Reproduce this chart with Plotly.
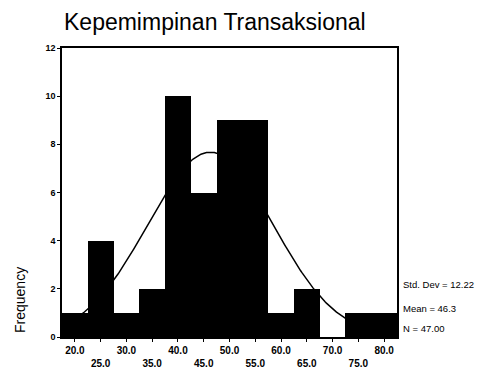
import numpy as np
import plotly.graph_objects as go

# Data
bin_centers = [20, 25, 30, 35, 40, 45, 50, 55, 60, 65, 70, 75, 80]
frequencies = [1, 4, 1, 2, 10, 6, 9, 9, 1, 2, 0, 1, 1]
x_tick_vals = [20, 25, 30, 35, 40, 45, 50, 55, 60, 65, 70, 75, 80]
x_tick_text = ["20.0", "<br>25.0", "30.0", "<br>35.0", "40.0", "<br>45.0", "50.0",
               "<br>55.0", "60.0", "<br>65.0", "70.0", "<br>75.0", "80.0"]
y_tick_vals = [0, 2, 4, 6, 8, 10, 12]
std_dev = 12.22
mean = 46.3
n = 47
bin_width = 5

# Normal curve implied by the stated statistics
xs = np.linspace(17.5, 82.5, 300)
ys = n * bin_width / (std_dev * np.sqrt(2 * np.pi)) * np.exp(-((xs - mean) ** 2) / (2 * std_dev ** 2))

fig = go.Figure()
fig.add_trace(go.Scatter(x=xs, y=ys, mode="lines", line=dict(color="black", width=1.5),
                         hoverinfo="skip", showlegend=False))
fig.add_trace(go.Bar(x=bin_centers, y=frequencies, width=bin_width,
                     marker=dict(color="black", line=dict(width=0)), showlegend=False))

font = "Liberation Sans, Arial, sans-serif"
fig.update_layout(
    width=498, height=381,
    margin=dict(l=54, r=109, t=40, b=52),
    paper_bgcolor="white", plot_bgcolor="white",
    bargap=0,
    font=dict(family=font, color="black"),
    xaxis=dict(range=[17.5, 82.5], tickvals=x_tick_vals, ticktext=x_tick_text,
               ticks="outside", ticklen=3, tickcolor="black", showgrid=False, zeroline=False,
               showline=True, linecolor="black", linewidth=1.5, mirror=True,
               tickfont=dict(size=10, family=font, weight="bold")),
    yaxis=dict(range=[0, 12], tickvals=y_tick_vals, ticks="outside", ticklen=3,
               tickcolor="black", showgrid=False, zeroline=False,
               showline=True, linecolor="black", linewidth=1.5, mirror=True,
               tickfont=dict(size=9, family=font, weight="bold")),
    annotations=[
        dict(text="Kepemimpinan Transaksional", xref="paper", yref="paper",
             x=0.0, y=1.0, yshift=26, xanchor="left", yanchor="middle",
             showarrow=False, font=dict(size=23, family=font)),
        dict(text="Frequency", xref="paper", yref="paper", x=0, xshift=-42,
             y=0.128, textangle=-90, xanchor="center", yanchor="middle",
             showarrow=False, font=dict(size=14, family=font)),
        dict(text="Std. Dev = %.2f" % std_dev, xref="paper", yref="y", x=1.0, xshift=4,
             y=2.16, xanchor="left", yanchor="middle", showarrow=False,
             font=dict(size=9.5, family=font)),
        dict(text="Mean = %.1f" % mean, xref="paper", yref="y", x=1.0, xshift=4,
             y=1.2, xanchor="left", yanchor="middle", showarrow=False,
             font=dict(size=9.5, family=font)),
        dict(text="N = %.2f" % n, xref="paper", yref="y", x=1.0, xshift=4,
             y=0.37, xanchor="left", yanchor="middle", showarrow=False,
             font=dict(size=9.5, family=font)),
    ],
)

fig.write_html("out.html")
